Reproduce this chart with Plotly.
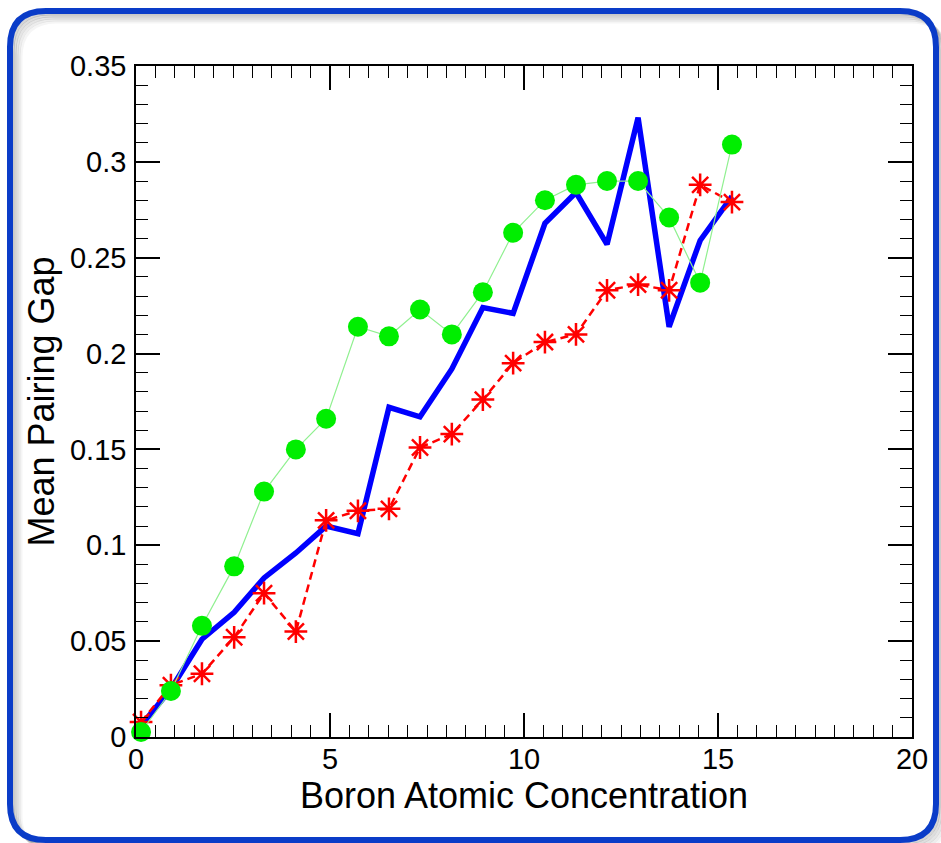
import plotly.graph_objects as go

# ---- data ----
boron_conc = [0.13, 0.90, 1.70, 2.53, 3.30, 4.12, 4.90, 5.72, 6.52, 7.32,
              8.14, 8.94, 9.72, 10.54, 11.34, 12.14, 12.94, 13.74, 14.54, 15.36]
gap_blue = [0.006, 0.025, 0.051, 0.065, 0.083, 0.096, 0.110, 0.106, 0.172, 0.167,
            0.192, 0.224, 0.221, 0.268, 0.284, 0.257, 0.323, 0.214, 0.259, 0.282]
gap_red = [0.0078, 0.027, 0.033, 0.052, 0.075, 0.055, 0.113, 0.118, 0.119, 0.151,
           0.158, 0.176, 0.195, 0.206, 0.210, 0.233, 0.236, 0.233, 0.288, 0.279]
gap_green = [0.0026, 0.024, 0.058, 0.089, 0.128, 0.150, 0.166, 0.214, 0.209, 0.223,
             0.210, 0.232, 0.263, 0.280, 0.288, 0.290, 0.290, 0.271, 0.237, 0.309]

x_ticks = [0, 5, 10, 15, 20]
y_ticks = [0, 0.05, 0.1, 0.15, 0.2, 0.25, 0.3, 0.35]
y_ticktext = ["0", "0.05", "0.1", "0.15", "0.2", "0.25", "0.3", "0.35"]

W, H = 941, 843
ML, MR, MT, MB = 136, 29, 66, 106
PW, PH = W - ML - MR, H - MT - MB

fig = go.Figure()
fig.add_trace(go.Scatter(x=boron_conc, y=gap_blue, mode="lines",
                         line=dict(color="#0000ff", width=5.5),
                         cliponaxis=False, showlegend=False))
fig.add_trace(go.Scatter(x=boron_conc, y=gap_red, mode="lines+markers",
                         line=dict(color="#ff0000", width=2.5, dash="8px,5px"),
                         marker=dict(symbol="asterisk-open", size=19,
                                     line=dict(color="#ff0000", width=2.5)),
                         cliponaxis=False, showlegend=False))
fig.add_trace(go.Scatter(x=boron_conc, y=gap_green, mode="lines+markers",
                         line=dict(color="#90f090", width=1.2),
                         marker=dict(symbol="circle", size=20, color="#00ee00",
                                     line=dict(width=0)),
                         cliponaxis=False, showlegend=False))


def px2paper(px, py):
    return (px - ML) / PW, (H - MB - py) / PH


def rounded_path(x0, y0, x1, y1, r):
    def P(px, py):
        a, b = px2paper(px, py)
        return f"{a:.5f},{b:.5f}"
    s = f"M {P(x0 + r, y0)} L {P(x1 - r, y0)} Q {P(x1, y0)} {P(x1, y0 + r)} "
    s += f"L {P(x1, y1 - r)} Q {P(x1, y1)} {P(x1 - r, y1)} "
    s += f"L {P(x0 + r, y1)} Q {P(x0, y1)} {P(x0, y1 - r)} "
    s += f"L {P(x0, y0 + r)} Q {P(x0, y0)} {P(x0 + r, y0)} Z"
    return s


shapes = []
for d, a in [(3, 0.16), (5, 0.13), (7, 0.10), (9, 0.07), (11, 0.04)]:
    shapes.append(dict(type="path", xref="paper", yref="paper",
                       path=rounded_path(10 + d, 11 + d, 936 + d, 840 + d, 36),
                       line=dict(color=f"rgba(0,0,0,{a})", width=3), layer="below"))
shapes.append(dict(type="path", xref="paper", yref="paper",
                   path=rounded_path(10, 11, 936, 840, 36),
                   line=dict(color="#0a3cc8", width=6), layer="above"))

font_family = "Liberation Sans, Arial, sans-serif"
axis_common = dict(showgrid=False, zeroline=False, showline=True,
                   linecolor="black", linewidth=1.5, mirror="allticks",
                   ticks="inside", ticklen=24, tickwidth=1.5, tickcolor="black",
                   tickfont=dict(family=font_family, size=29, color="black"))

fig.update_layout(
    width=W, height=H, autosize=False,
    margin=dict(l=ML, r=MR, t=MT, b=MB),
    paper_bgcolor="white", plot_bgcolor="white",
    font=dict(family=font_family, color="black"),
    shapes=shapes,
    xaxis=dict(range=[0, 20], tickvals=x_ticks, ticktext=[str(v) for v in x_ticks],
               title=dict(text="Boron Atomic Concentration",
                          font=dict(family=font_family, size=36, color="black"),
                          standoff=0),
               minor=dict(dtick=0.5, ticks="inside", ticklen=12, tickwidth=1.2,
                          tickcolor="black"),
               ticklabelstandoff=-5,
               **axis_common),
    yaxis=dict(range=[0, 0.35], tickvals=y_ticks, ticktext=y_ticktext,
               title=dict(text="Mean Pairing Gap",
                          font=dict(family=font_family, size=36, color="black"),
                          standoff=4),
               minor=dict(dtick=0.01, ticks="inside", ticklen=12, tickwidth=1.2,
                          tickcolor="black"),
               ticklabelstandoff=2,
               **axis_common),
)

fig.write_html("out.html")
